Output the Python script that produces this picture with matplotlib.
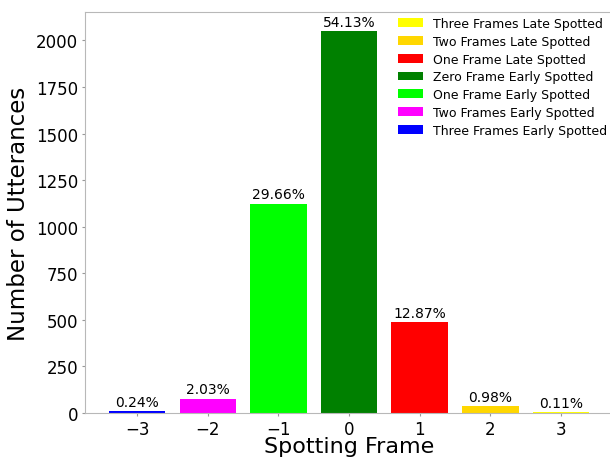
import matplotlib
matplotlib.use('Agg')
import matplotlib.pyplot as plt

frames = [-3, -2, -1, 0, 1, 2, 3]
counts = [9, 77, 1124, 2051, 488, 37, 4]
pct_labels = ['0.24%', '2.03%', '29.66%', '54.13%', '12.87%', '0.98%', '0.11%']
bar_colors = ['blue', 'magenta', 'lime', 'green', 'red', 'gold', 'yellow']
names = ['Three Frames Early Spotted', 'Two Frames Early Spotted', 'One Frame Early Spotted',
         'Zero Frame Early Spotted', 'One Frame Late Spotted', 'Two Frames Late Spotted',
         'Three Frames Late Spotted']

plt.rcParams['axes.edgecolor'] = '#b8b8b8'

fig = plt.figure(figsize=(6.1, 4.6), dpi=100)
ax = fig.add_axes([0.1393, 0.1, 0.866, 0.872])

bars = ax.bar(frames, counts, width=0.8, color=bar_colors)
for b, n in zip(bars, names):
    b.set_label(n)
for b, txt in zip(bars, pct_labels):
    ax.text(b.get_x() + b.get_width() / 2, b.get_height() + 12, txt,
            ha='center', va='bottom', fontsize=10)

ax.set_xticks(frames)
ax.tick_params(labelsize=12, length=2.5, width=0.8, color='#999999', pad=2.5)
ax.set_xlabel('Spotting Frame', fontsize=16, labelpad=-1.5)
ax.set_ylabel('Number of Utterances', fontsize=16.5, labelpad=4)

handles, labels = ax.get_legend_handles_labels()
ax.legend(handles[::-1], labels[::-1], loc='upper right', frameon=False,
          fontsize=9, labelspacing=0.38,
          bbox_to_anchor=(1.01, 1.015))

fig.savefig('out.png', dpi=100)
